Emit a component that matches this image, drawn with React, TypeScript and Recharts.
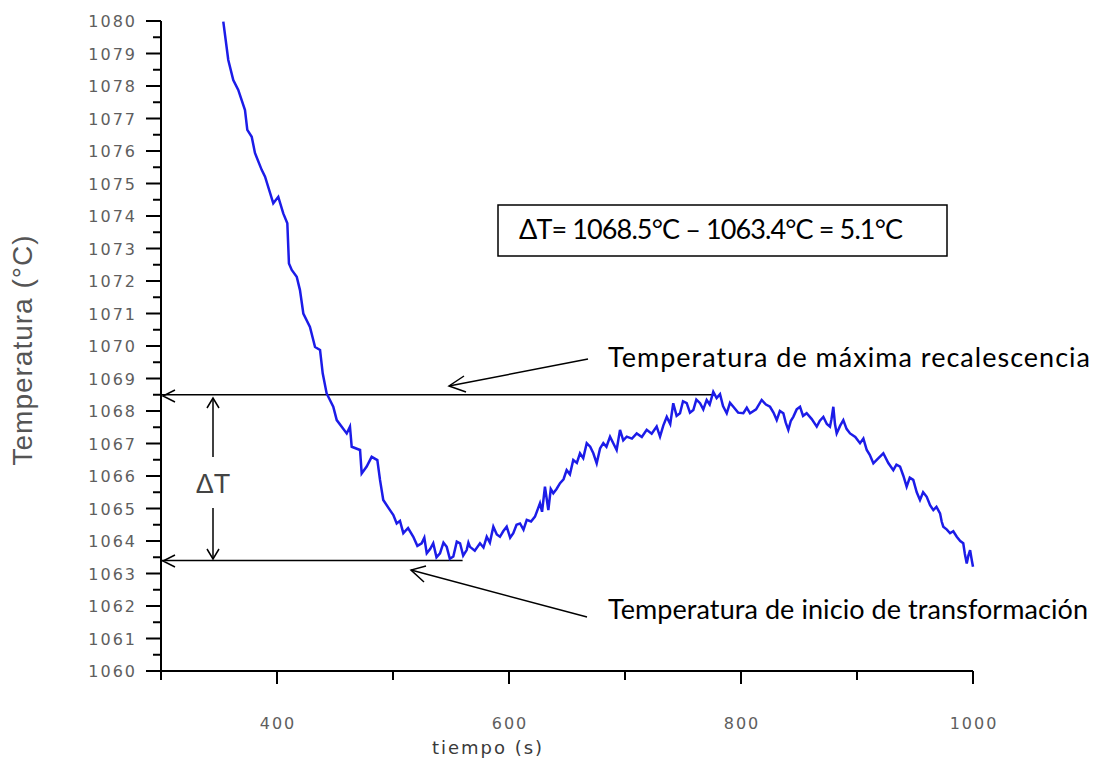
import { LineChart, Line, XAxis, YAxis, ReferenceLine } from 'recharts'

// tiempo (s)
const tiempo = [
  353.7, 358.0, 362.3, 366.6, 372.4, 374.4, 378.2, 381.0, 386.8, 389.7,
  396.8, 401.1, 405.4, 408.9, 410.3, 412.7, 417.0, 419.8, 422.7, 428.4,
  432.8, 437.1, 439.4, 442.8, 448.5, 451.5, 460.1, 462.9, 464.4, 471.6,
  473.0, 477.3, 481.6, 486.5, 488.8, 491.6,
  497.4, 500.3, 503.2, 506.0, 508.9, 513.0, 517.5, 521.0, 524.7, 527.0,
  529.1, 532.0, 534.7, 537.5, 540.5, 543.5, 546.3, 549.0, 552.0, 555.0,
  557.8, 560.5, 563.5, 565.0, 566.4, 570.5, 575.0, 578.0, 580.8, 583.5,
  586.5, 589.5, 592.2, 595.0, 598.0, 601.0, 603.7, 606.5, 609.5, 612.5,
  615.3, 619.0, 622.4, 624.5, 626.7, 628.5, 631.0, 632.5, 633.9, 636.0,
  638.2, 641.0, 644.0, 647.0, 649.7, 652.5, 655.4, 658.5, 661.2, 664.0,
  667.0, 670.0, 672.7, 675.6, 678.5, 681.3, 684.0, 687.1, 690.0, 692.8,
  695.7, 698.5, 701.5, 706.0, 710.1, 714.5, 718.7, 723.0, 727.3, 730.2,
  733.0, 736.0, 739.0, 741.6, 744.5, 747.4, 750.0, 753.2, 756.0, 758.9,
  761.5, 764.7, 767.5, 770.4, 773.0, 776.1, 779.0, 781.9, 784.5, 787.7,
  790.5, 793.4, 797.5, 802.0, 805.0, 807.8, 813.0, 817.8, 821.5, 825.0,
  828.0, 830.8, 833.5, 836.5, 838.5, 840.8, 843.0, 845.1, 848.0, 850.9,
  853.5, 856.6, 861.0, 865.3, 868.0, 871.0, 874.0, 876.7, 878.0, 879.6,
  881.0, 882.5, 885.5, 888.2, 891.0, 894.0, 898.5, 902.6, 905.5, 908.4,
  911.0, 914.1, 918.5, 922.7, 927.0, 931.3, 934.0, 937.1, 940.0, 942.8,
  945.5, 948.5, 951.5, 954.3, 957.0, 960.1, 963.0, 965.8, 968.5, 971.6,
  973.0, 974.4, 977.5, 980.2, 983.0, 986.0, 989.0, 991.6, 993.0, 994.6,
  996.0, 997.5, 999.0, 1000.0,
]

// temperatura (°C)
const temperatura = [
  1079.98, 1078.8, 1078.18, 1077.88, 1077.26, 1076.65, 1076.44, 1075.94, 1075.42, 1075.21,
  1074.39, 1074.59, 1074.08, 1073.78, 1072.54, 1072.34, 1072.13, 1071.72, 1071.0, 1070.59,
  1069.97, 1069.88, 1069.16, 1068.54, 1068.13, 1067.72, 1067.31, 1067.52, 1066.9, 1066.8,
  1066.08, 1066.29, 1066.59, 1066.49, 1065.88, 1065.26,
  1064.95, 1064.8, 1064.54, 1064.62, 1064.24, 1064.4, 1064.13, 1063.85, 1063.93, 1064.1,
  1063.62, 1063.75, 1063.93, 1063.5, 1063.62, 1063.95, 1063.82, 1063.45, 1063.52, 1063.98,
  1063.93, 1063.55, 1063.72, 1063.95, 1063.82, 1063.7, 1063.93, 1063.8, 1064.13, 1063.95,
  1064.44, 1064.2, 1064.13, 1064.3, 1064.44, 1064.1, 1064.24, 1064.5, 1064.54, 1064.35,
  1064.65, 1064.6, 1064.75, 1064.95, 1065.16, 1064.9, 1065.67, 1065.3, 1064.95, 1065.6,
  1065.47, 1065.6, 1065.78, 1065.9, 1066.18, 1066.05, 1066.49, 1066.4, 1066.7, 1066.55,
  1067.01, 1066.9, 1066.7, 1066.39, 1066.85, 1067.01, 1066.9, 1067.21, 1067.0, 1066.8,
  1067.42, 1067.1, 1067.21, 1067.15, 1067.31, 1067.2, 1067.42, 1067.3, 1067.52, 1067.21,
  1067.55, 1067.82, 1067.6, 1068.24, 1067.85, 1067.93, 1068.3, 1068.24, 1067.95, 1068.03,
  1068.35, 1068.24, 1068.05, 1068.34, 1068.2, 1068.59, 1068.4, 1068.52, 1068.15, 1067.93,
  1068.25, 1068.13, 1067.95, 1067.93, 1068.1, 1067.93, 1068.05, 1068.34, 1068.2, 1068.13,
  1067.95, 1067.72, 1068.0, 1067.93, 1067.65, 1067.42, 1067.7, 1067.82, 1068.05, 1068.13,
  1067.85, 1067.93, 1067.75, 1067.52, 1067.7, 1067.82, 1067.6, 1067.52, 1067.75, 1068.13,
  1067.6, 1067.31, 1067.55, 1067.72, 1067.45, 1067.31, 1067.2, 1067.01, 1067.15, 1066.8,
  1066.65, 1066.39, 1066.55, 1066.7, 1066.4, 1066.18, 1066.35, 1066.29, 1066.0, 1065.67,
  1065.95, 1065.88, 1065.5, 1065.26, 1065.5, 1065.36, 1065.1, 1064.95, 1065.05, 1064.85,
  1064.6, 1064.44, 1064.35, 1064.24, 1064.3, 1064.13, 1064.0, 1063.93, 1063.6, 1063.31,
  1063.55, 1063.72, 1063.4, 1063.21,
]

const xTicks = [300, 400, 500, 600, 700, 800, 900, 1000]
const xLabels = [400, 600, 800, 1000]
const yTicks = Array.from({ length: 41 }, (_, i) => 1060 + i * 0.5)

const T_MAX = 1068.5
const T_INICIO = 1063.4
const T_MAX_END = 776
const T_INICIO_END = 560

const data = tiempo.map((t, i) => ({ t, temp: temperatura[i] }))

const tickFont = { fontFamily: 'DejaVu Sans', fontSize: 16, letterSpacing: 2, fill: '#5e5e5e' }

const YTick = ({ x, y, payload }: any) => {
  const major = Number.isInteger(payload.value)
  return (
    <g>
      <line x1={x - (major ? 15 : 8)} x2={x} y1={y} y2={y} stroke="#000" strokeWidth={2} />
      {major && (
        <text x={x - 24} y={y} dy={6} textAnchor="end" style={tickFont}>
          {payload.value}
        </text>
      )}
    </g>
  )
}

const XTick = ({ x, y, payload }: any) => {
  const major = xLabels.includes(payload.value)
  return (
    <g>
      <line x1={x} x2={x} y1={y} y2={y + (major ? 13 : 9)} stroke="#000" strokeWidth={2} />
      {major && (
        <text x={x + 1} y={y + 58} textAnchor="middle" style={tickFont}>
          {payload.value}
        </text>
      )}
    </g>
  )
}

const annFont = { fontFamily: 'Lato', fontSize: 27, fill: '#000' }

function Annotations() {
  return (
    <svg width={1102} height={767} style={{ position: 'absolute', left: 0, top: 0, pointerEvents: 'none' }}>
      <g stroke="#000" strokeWidth={1.5} fill="none">
        {/* flechas en el eje */}
        <polyline points="175,390 163,396 175,402" />
        <polyline points="175,555 163,561 175,567" />
        {/* flecha doble ΔT */}
        <line x1={213} y1={398} x2={213} y2={457} />
        <line x1={213} y1={508} x2={213} y2={559} />
        <polyline points="207,408 213,398 219,408" />
        <polyline points="207,549 213,559 219,549" />
        {/* flechas a los textos */}
        <line x1={588} y1={359} x2={449} y2={386} />
        <polyline points="464,376 449,386 466,392" />
        <line x1={587} y1={617} x2={411} y2={570} />
        <polyline points="426,566 411,570 424,582" />
        <rect x={498} y={205} width={449} height={51} />
      </g>
      <text x={213} y={493} textAnchor="middle" style={{ fontFamily: 'Liberation Sans', fontSize: 27, fill: '#444' }}>
        ΔT
      </text>
      <text x={519} y={239} textLength={384} lengthAdjust="spacing" style={annFont}>
        ΔT= 1068.5°C – 1063.4°C = 5.1°C
      </text>
      <text x={608} y={367} textLength={482} lengthAdjust="spacing" style={annFont}>
        Temperatura de máxima recalescencia
      </text>
      <text x={608} y={619} textLength={480} lengthAdjust="spacing" style={annFont}>
        Temperatura de inicio de transformación
      </text>
      <text
        x={32}
        y={350}
        textAnchor="middle"
        transform="rotate(-90 32 350)"
        style={{ fontFamily: 'Liberation Sans', fontSize: 28, letterSpacing: 1, fill: '#555' }}
      >
        Temperatura (°C)
      </text>
      <text x={488} y={754} textAnchor="middle" style={{ fontFamily: 'DejaVu Sans', fontSize: 18, letterSpacing: 2, fill: '#3a3a3a' }}>
        tiempo (s)
      </text>
    </svg>
  )
}

export default function App() {
  return (
    <div style={{ position: 'absolute', left: 0, top: 0, width: 1102, height: 767, background: '#fff' }}>
      <LineChart width={1102} height={767} data={data} margin={{ top: 21, right: 129, bottom: 0, left: 0 }}>
        <XAxis
          dataKey="t"
          type="number"
          domain={[300, 1000]}
          ticks={xTicks}
          interval={0}
          height={96}
          tickSize={0}
          tickMargin={0}
          tickLine={false}
          axisLine={{ stroke: '#000', strokeWidth: 2 }}
          tick={<XTick />}
        />
        <YAxis
          type="number"
          domain={[1060, 1080]}
          ticks={yTicks}
          interval={0}
          width={161}
          tickSize={0}
          tickMargin={0}
          tickLine={false}
          axisLine={{ stroke: '#000', strokeWidth: 2 }}
          tick={<YTick />}
        />
        <ReferenceLine
          segment={[{ x: 300, y: T_MAX }, { x: T_MAX_END, y: T_MAX }]}
          stroke="#000"
          strokeWidth={1.5}
        />
        <ReferenceLine
          segment={[{ x: 300, y: T_INICIO }, { x: T_INICIO_END, y: T_INICIO }]}
          stroke="#000"
          strokeWidth={1.5}
        />
        <Line
          type="linear"
          dataKey="temp"
          stroke="#1c1ce8"
          strokeWidth={2.5}
          dot={false}
          isAnimationActive={false}
        />
      </LineChart>
      <Annotations />
    </div>
  )
}
